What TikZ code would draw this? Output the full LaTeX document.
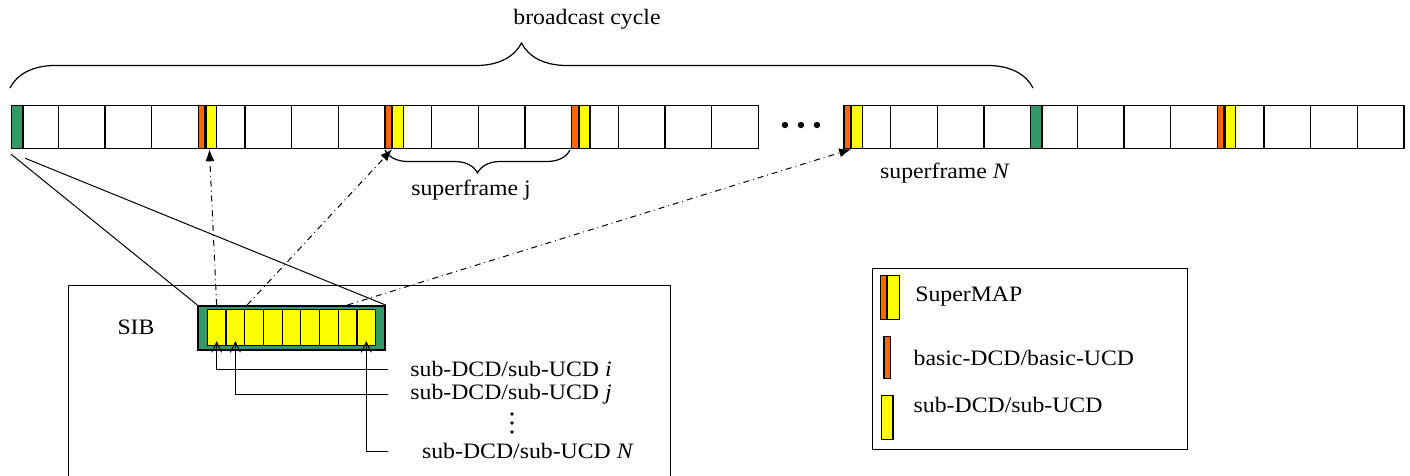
\documentclass[tikz,border=0pt]{standalone}
\usepackage{fontspec}
\setmainfont{Liberation Serif}[FakeStretch=1.08]
\usepackage{tikz}
\usetikzlibrary{positioning,arrows.meta,decorations.pathreplacing}
\definecolor{sibgreen}{RGB}{51,153,102}
\definecolor{mapred}{RGB}{255,102,0}
\definecolor{mapyellow}{RGB}{255,255,0}

\begin{document}
\begin{tikzpicture}[
  x=0.5pt, y=-0.5pt,
  font=\fontsize{11}{13}\selectfont,
  slotbox/.style={draw, line width=0.6pt, minimum width=23.33pt, minimum height=21.5pt, inner sep=0pt, anchor=north west},
  greenbox/.style={slotbox, fill=sibgreen, minimum width=5.7pt},
  basicbox/.style={slotbox, fill=mapred, minimum width=3.3pt},
  subbox/.style={slotbox, fill=mapyellow, minimum width=5.3pt},
  sibcell/.style={draw, fill=mapyellow, line width=0.6pt, minimum width=9.35pt, minimum height=18pt, inner sep=0pt, anchor=north west},
  mapline/.style={dash dot, line width=0.5pt, -{Latex[length=6pt, width=4.5pt]}},
  subline/.style={line width=0.5pt, -{Straight Barb[length=5pt, width=5pt]}, shorten >=-2.5pt},
  bracedeco/.style={decorate, line width=0.6pt},
  label/.style={inner sep=0pt, anchor=west}
]
  \useasboundingbox (0,0) rectangle (1410,476);

  \foreach \i in {0,...,15}
    \node[slotbox] (a\i) at (11+46.67*\i, 105) {};
  \foreach \i in {0,...,11}
    \node[slotbox] (b\i) at (843.3+46.67*\i, 105) {};
  \node[greenbox] (ga0) at (a0.north west) {};
  \node[greenbox] (gb4) at (b4.north west) {};
  \foreach \s/\i in {a/4, a/8, a/12, b/0, b/8} {
    \node[basicbox] (r\s\i) at (\s\i.north west) {};
    \node[subbox, anchor=west, right=0pt of r\s\i] (y\s\i) {};
  }
  \foreach \x in {785,801,817}
    \fill (\x,125) circle (1.6pt);

  \draw[bracedeco, decoration={brace, amplitude=22.5pt}] (10,88) -- (1033,88);
  \node (cycle) at (587,19) {broadcast cycle};
  \draw[bracedeco, decoration={brace, amplitude=11.5pt}] (570,150) -- (385,150);
  \node (sfj) at (471,190) {superframe j};
  \node (sfn) at (945,173) {superframe \textit{N}};

  \draw[line width=0.5pt] (68,480) |- (670,285) -- (670,480);
  \node (sibname) at (136,327) {SIB};
  \node[draw, fill=sibgreen, line width=0.8pt, minimum width=93.35pt, minimum height=22.15pt, inner sep=0pt, anchor=north west] (sib) at (197.3,305) {};
  \foreach \k in {0,...,8}
    \node[sibcell] (c\k) at (206.7+18.7*\k, 309) {};

  \coordinate (l1) at ([yshift=-2.5pt]ga0.south west);
  \coordinate (l2) at ([xshift=7pt, yshift=-4.5pt]ga0.south west);
  \draw[line width=0.5pt] (l1) -- (sib.north west);
  \draw[line width=0.5pt] (l2) -- (sib.north east);

  \draw[mapline] (c0 |- sib.north) -- ([xshift=-1pt]ya4.south);
  \draw[mapline] ([xshift=1.5pt]c2.north west |- sib.north) -- (ra8.south east);
  \draw[mapline] (c7 |- sib.north) -- (rb0.south east);

  \node[label] (li) at (410,369) {sub-DCD/sub-UCD \textit{i}};
  \node[label] (lj) at (410,394) {sub-DCD/sub-UCD \textit{j}};
  \foreach \y in {414,423,432}
    \fill (512,\y) circle (0.9pt);
  \node[label] (ln) at (421.7,451) {sub-DCD/sub-UCD \textit{N}};
  \coordinate (lend) at (388,0);
  \draw[subline] (lend |- li.west) -| (c0.south);
  \draw[subline] (lend |- lj.west) -| (c1.south);
  \draw[subline] (lend |- ln.west) -| (c8.south);

  \node[draw, line width=0.5pt, minimum width=157.5pt, minimum height=90.5pt, inner sep=0pt, anchor=north west] (legend) at (871.7,268.3) {};
  \node[basicbox, minimum height=22pt, minimum width=2.85pt] (kmapr) at (880,275) {};
  \node[subbox, minimum height=22pt, minimum width=5.8pt, anchor=west, right=0pt of kmapr] (kmapy) {};
  \node[label] (tmap) at (915,297) {SuperMAP};
  \node[basicbox, minimum height=21pt] (kbasic) at (883.3,336) {};
  \node[label] (tbasic) at (913.3,358) {basic-DCD/basic-UCD};
  \node[subbox, minimum height=22pt, minimum width=5.65pt] (ksub) at (881,395) {};
  \node[label] (tsub) at (913.3,405) {sub-DCD/sub-UCD};
\end{tikzpicture}
\end{document}
